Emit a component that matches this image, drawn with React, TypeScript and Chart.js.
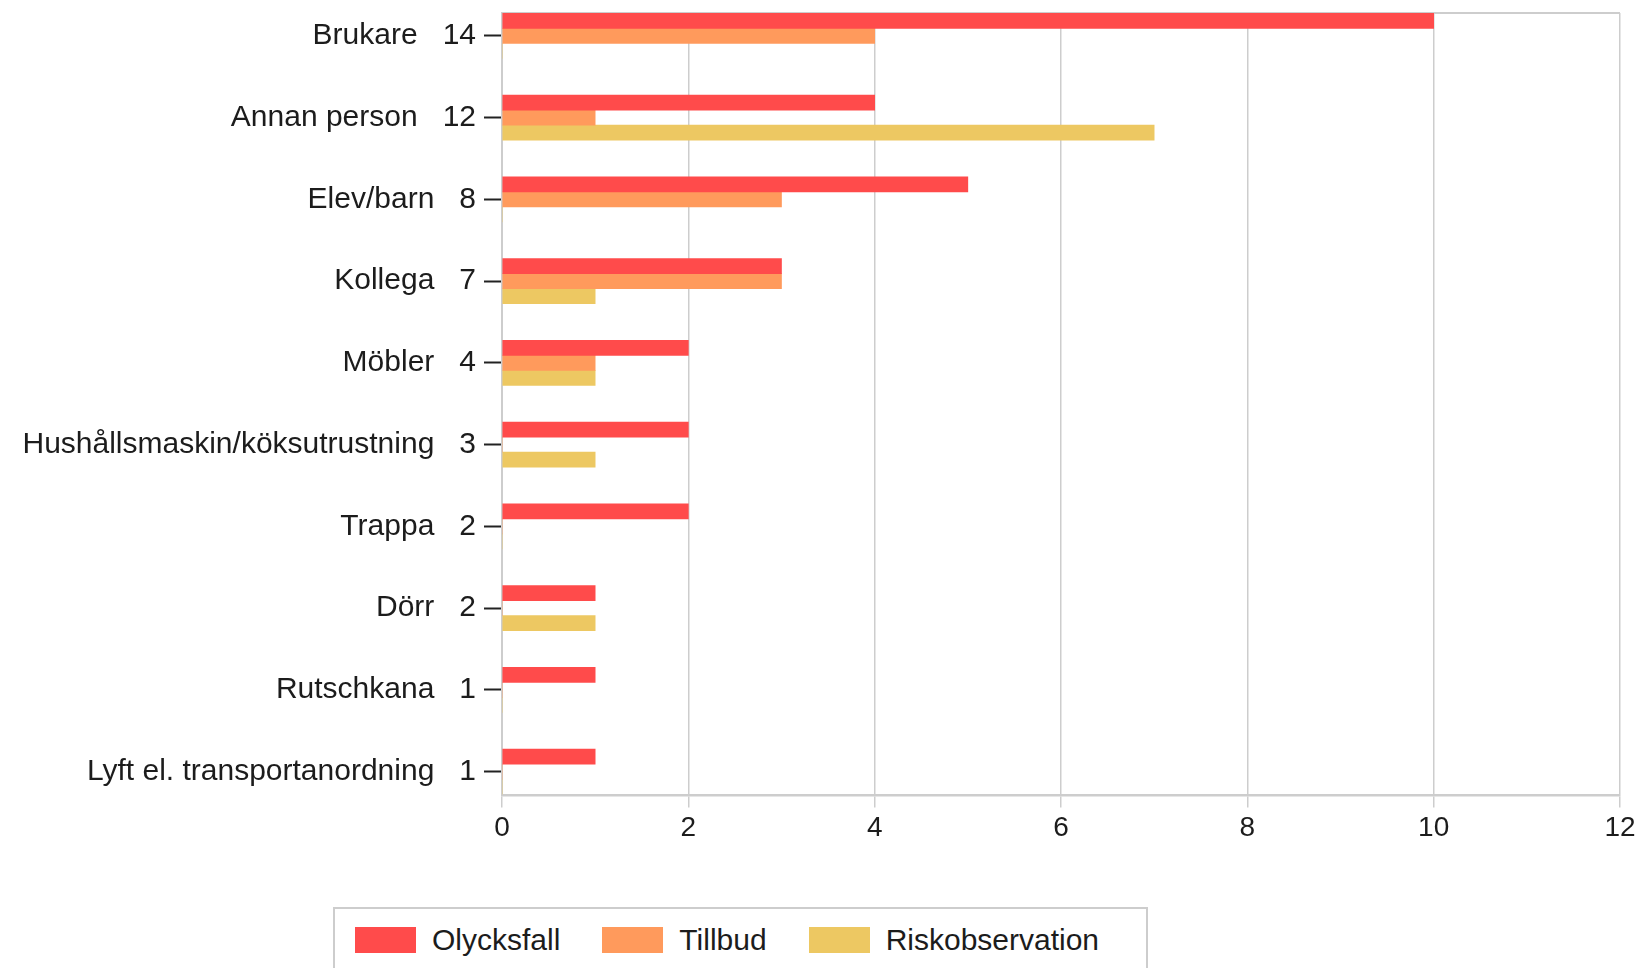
import React, { useEffect, useRef } from "react";
import { Chart, registerables } from "chart.js";

Chart.register(...registerables);

const categories = [
  "Brukare",
  "Annan person",
  "Elev/barn",
  "Kollega",
  "Möbler",
  "Hushållsmaskin/köksutrustning",
  "Trappa",
  "Dörr",
  "Rutschkana",
  "Lyft el. transportanordning",
];
const totals = [14, 12, 8, 7, 4, 3, 2, 2, 1, 1];
const olycksfall = [10, 4, 5, 3, 2, 2, 2, 1, 1, 1];
const tillbud = [4, 1, 3, 3, 1, 0, 0, 0, 0, 0];
const riskobservation = [0, 7, 0, 1, 1, 1, 0, 1, 0, 0];
const xTicks = [0, 2, 4, 6, 8, 10, 12];
const seriesNames = ["Olycksfall", "Tillbud", "Riskobservation"];
const seriesValues = [olycksfall, tillbud, riskobservation];
const seriesColors = ["#ff4b4b", "#ff9a5c", "#edc862"];

const FONT = "'Liberation Sans', Arial, sans-serif";
const TEXT = "#1c1c1c";
const GRID = "#cdcdcd";

const frame = {
  id: "frame",
  beforeDatasetsDraw(chart: any) {
    const { ctx, chartArea } = chart;
    ctx.save();
    ctx.strokeStyle = GRID;
    ctx.lineWidth = 2;
    ctx.beginPath();
    ctx.moveTo(chartArea.left, chartArea.top);
    ctx.lineTo(chartArea.right, chartArea.top);
    ctx.stroke();
    ctx.restore();
  },
};

export default function App() {
  const ref = useRef<HTMLCanvasElement | null>(null);

  useEffect(() => {
    if (!ref.current) return;
    const chart = new Chart(ref.current, {
      type: "bar",
      data: {
        datasets: seriesNames.map((name, s) => ({
          label: name,
          data: seriesValues[s].map((v, i) => ({ x: v, y: i })),
          backgroundColor: seriesColors[s],
          borderWidth: 0,
          barThickness: 15,
        })),
      },
      options: {
        indexAxis: "y",
        animation: false,
        responsive: true,
        maintainAspectRatio: false,
        layout: { padding: { top: 13, right: 21, bottom: 11, left: 0 } },
        plugins: {
          legend: { display: false },
          tooltip: { enabled: false },
        },
        scales: {
          x: {
            type: "linear",
            min: xTicks[0],
            max: xTicks[xTicks.length - 1],
            afterBuildTicks: (scale: any) => {
              scale.ticks = xTicks.map((v) => ({ value: v }));
            },
            ticks: {
              font: { family: FONT, size: 28 },
              color: TEXT,
              padding: 4,
            },
            grid: {
              color: GRID,
              lineWidth: 1.5,
              tickLength: 12,
              tickColor: GRID,
            },
            border: { color: GRID, width: 2.5 },
          },
          y: {
            type: "linear",
            position: "left",
            reverse: true,
            offset: false,
            bounds: "data",
            min: -0.28,
            max: 9.29,
            afterBuildTicks: (scale: any) => {
              scale.ticks = categories.map((_, i) => ({ value: i }));
            },
            afterFit: (scale: any) => {
              scale.width = 502;
              scale.paddingTop = 0;
              scale.paddingBottom = 0;
            },
            ticks: {
              callback: (v: any) => `${categories[v]}   ${totals[v]}`,
              font: { family: FONT, size: 30 },
              color: TEXT,
              padding: 8,
              autoSkip: false,
            },
            grid: {
              offset: false,
              drawOnChartArea: false,
              drawTicks: true,
              tickLength: 18,
              tickColor: "#222222",
              tickWidth: 2,
            },
            border: { color: GRID, width: 2 },
          },
        },
      } as any,
      plugins: [frame],
    });
    return () => chart.destroy();
  }, []);

  return (
    <div
      style={{
        position: "fixed",
        left: 0,
        top: 0,
        width: 1641,
        height: 968,
        background: "#fff",
        overflow: "hidden",
        fontFamily: FONT,
      }}
    >
      <div style={{ position: "absolute", left: 0, top: 0, width: 1641, height: 860 }}>
        <canvas ref={ref} />
      </div>
      <div
        style={{
          position: "absolute",
          left: 333,
          top: 907,
          width: 815,
          height: 100,
          boxSizing: "border-box",
          border: `2px solid ${GRID}`,
          display: "flex",
          alignItems: "flex-start",
          paddingLeft: 20,
          paddingTop: 16,
        }}
      >
        {seriesNames.map((name, s) => (
          <div key={name} style={{ display: "flex", alignItems: "center", marginRight: 42 }}>
            <div style={{ width: 61, height: 26, background: seriesColors[s], marginRight: 16 }} />
            <span style={{ fontSize: 30, color: TEXT, lineHeight: "30px" }}>{name}</span>
          </div>
        ))}
      </div>
    </div>
  );
}
